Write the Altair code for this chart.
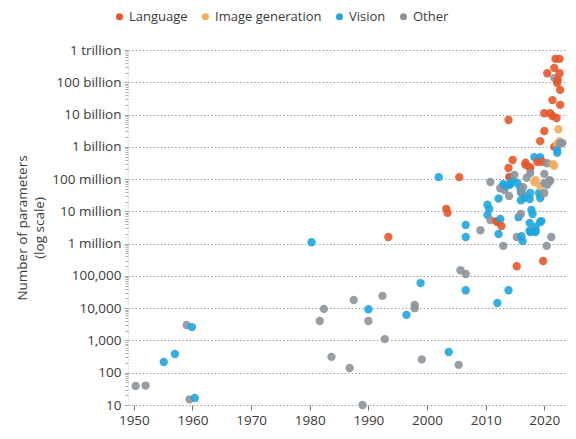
import altair as alt
import pandas as pd

# ---- data (year, number of parameters) ----
language_year = [1993.4, 2003.3, 2003.5, 2005.5, 2011.8, 2012.0, 2012.7, 2013.9, 2013.9, 2014.1,
                 2014.6, 2015.3, 2016.8, 2016.8, 2017.5, 2017.6, 2018.8, 2019.1, 2019.3, 2019.7,
                 2019.8, 2020.0, 2020.0, 2020.5, 2021.0, 2021.4, 2021.4, 2021.7, 2021.7, 2021.9,
                 2022.1, 2022.2, 2022.3, 2022.6, 2022.6, 2022.7, 2022.7]
language_params = [1.6e6, 1.2e7, 9e6, 1.15e8, 5e6, 4.7e6, 3.5e6, 6.8e9, 2.2e8, 1.15e8,
                   3.9e8, 2.0e5, 3.2e8, 2.75e8, 2.35e8, 2.2e8, 3.4e8, 4.0e8, 1.5e9, 3.4e8,
                   2.9e5, 3.1e9, 1.1e10, 1.9e11, 1.1e10, 9e9, 2.8e10, 2.8e11, 1e9, 5.3e11,
                   7.8e9, 9.5e10, 1.2e11, 5.3e11, 1.9e11, 5.8e10, 2.0e10]

imagegen_year = [2018.3, 2018.5, 2019.3, 2021.5, 2021.7, 2022.2, 2022.4, 2022.6]
imagegen_params = [8.1e7, 9.3e7, 6e7, 2.9e8, 2.6e8, 1.2e9, 3.5e9, 1.5e9]

vision_year = [1955.1, 1957.0, 1959.9, 1960.4, 1980.3, 1990.0, 1996.5, 1998.9, 2002.0, 2003.7,
               2006.6, 2006.6, 2006.6, 2010.3, 2010.6, 2010.3, 2012.5, 2012.2, 2012.0, 2013.9,
               2013.4, 2014.2, 2014.0, 2014.1, 2015.4, 2015.6, 2016.1, 2016.3, 2016.1, 2016.6,
               2017.5, 2017.6, 2017.5, 2017.5, 2017.8, 2018.0, 2018.5, 2018.5, 2019.5, 2019.1,
               2019.3, 2018.3, 2019.3, 2022.2, 2022.2, 2016.0, 2017.6, 2018.5, 2019.3, 2015.9,
               2013.0, 2012.2, 2014.7]
vision_params = [215, 380, 2600, 16.5, 1.1e6, 9300, 6200, 6e4, 1.15e8, 440,
                 3.8e6, 1.6e6, 3.6e4, 1.6e7, 1.2e7, 7.8e6, 5.8e6, 2e6, 1.45e4, 3.6e4,
                 6.2e7, 7.1e7, 1.15e8, 6.6e7, 7.6e7, 6.6e6, 1.7e6, 1.2e6, 3.7e7, 2.6e7,
                 2.4e7, 3.7e7, 4.4e6, 2.5e6, 1.1e7, 8.3e6, 3.3e6, 2.5e6, 5e6, 3.7e7,
                 2.6e7, 4.8e8, 4.8e8, 6.5e8, 8e8, 2.2e7, 2.3e6, 2.3e6, 4.7e6, 5.5e7,
                 7e7, 2.5e7, 9e7]

other_year = [1950.3, 1952.0, 1959.0, 1959.5, 1981.7, 1982.4, 1983.7, 1986.8, 1987.5, 1989.0,
              1990.0, 1992.4, 1992.8, 1997.9, 1997.9, 1999.1, 2005.4, 2005.7, 2006.6, 2009.1,
              2010.8, 2010.8, 2013.0, 2015.3, 2021.2, 2020.4, 2016.0, 2016.0, 2016.4, 2014.0,
              2013.2, 2012.5, 2014.9, 2020.0, 2021.0, 2020.0, 2020.0, 2017.6, 2020.5, 2020.9,
              2020.5, 2021.7, 2022.7, 2023.1, 2017.0, 2016.3]
other_params = [39, 40, 3000, 15, 4000, 9500, 310, 140, 1.8e4, 10,
                4000, 2.4e4, 1100, 1.26e4, 1e4, 260, 175, 1.5e5, 1.15e5, 2.6e6,
                8.1e7, 5.4e6, 8.5e5, 1.6e6, 1.6e6, 8.5e5, 8.3e6, 4e7, 5.6e7, 3e7,
                4.6e7, 5.2e7, 1.35e8, 3.7e7, 8.7e7, 7.6e7, 1.45e8, 1.55e8, 3.1e8, 9.3e7,
                6.6e7, 1.35e11, 1.3e9, 1.3e9, 1.1e8, 3.3e7]

categories = ["Language", "Image generation", "Vision", "Other"]
colors = ["#E5582B", "#F2AC5C", "#1FA6DF", "#8D939B"]

y_tick_values = [10, 100, 1e3, 1e4, 1e5, 1e6, 1e7, 1e8, 1e9, 1e10, 1e11, 1e12]
y_tick_labels = ["10", "100", "1,000", "10,000", "100,000", "1 million", "10 million",
                 "100 million", "1 billion", "10 billion", "100 billion", "1 trillion"]
x_tick_values = [1950, 1960, 1970, 1980, 1990, 2000, 2010, 2020]

# ---- build table ----
rows = []
for cat, ys, ps in [("Language", language_year, language_params),
                    ("Image generation", imagegen_year, imagegen_params),
                    ("Vision", vision_year, vision_params),
                    ("Other", other_year, other_params)]:
    for yr, p in zip(ys, ps):
        rows.append({"year": yr, "params": p, "category": cat})
df = pd.DataFrame(rows)

# minor log ticks (axis decoration only)
minor_ticks = [m * v for v in y_tick_values[:-1] for m in range(2, 10)]
all_ticks = sorted(y_tick_values + minor_ticks)

label_expr = ""
for v, lab in zip(reversed(y_tick_values), reversed(y_tick_labels)):
    label_expr += f"abs(datum.value - {v:.0f}) < {v * 0.01:.4f} ? '{lab}' : "
label_expr += "''"

major_test = "abs(log(datum.value)/LN10 - round(log(datum.value)/LN10)) < 0.001"

FONT = "Open Sans"
TXT = "#3a3a3a"

chart = alt.Chart(df).mark_circle(size=70, opacity=0.9).encode(
    x=alt.X("year:Q",
            scale=alt.Scale(domain=[1949, 2023.7], nice=False, zero=False),
            axis=alt.Axis(values=x_tick_values, format="d", title=None, grid=False,
                          domain=False, ticks=True, tickSize=5, tickColor="#777",
                          labelFontSize=13.5, labelColor=TXT, labelFont=FONT,
                          labelPadding=3)),
    y=alt.Y("params:Q",
            scale=alt.Scale(type="log", domain=[10, 1e12], nice=False),
            axis=alt.Axis(values=all_ticks, labelExpr=label_expr, labelOverlap=False,
                          title=["Number of parameters", "(log scale)"],
                          titleFont=FONT, titleFontSize=13.5, titleFontWeight="normal",
                          titleColor=TXT, titlePadding=5, titleLineHeight=17,
                          labelFontSize=13.5, labelColor=TXT, labelFont=FONT,
                          labelPadding=3,
                          grid=True, gridColor="#8a8a8a", gridDash=[1.2, 2.4],
                          gridWidth=1.1,
                          gridOpacity={"condition": {"test": major_test, "value": 1}, "value": 0},
                          domain=True, domainColor="#c8c8c8", domainDash=[1, 2],
                          tickColor="#aaaaaa",
                          tickSize={"condition": {"test": major_test, "value": 4}, "value": 3})),
    color=alt.Color("category:N",
                    scale=alt.Scale(domain=categories, range=colors),
                    legend=alt.Legend(title=None, orient="none", direction="horizontal",
                                      legendX=-15, legendY=-40,
                                      symbolType="circle", symbolSize=50,
                                      symbolOpacity=1, labelFontSize=13,
                                      labelFont=FONT, labelColor=TXT,
                                      columnPadding=11, labelOffset=3)),
    order=alt.Order("year:Q"),
).properties(
    width=438,
    height=355,
    padding={"left": 7, "top": 2, "right": 0, "bottom": 5},
).configure_view(
    stroke=None
)

chart.save("out.html", embed_options={"renderer": "svg", "actions": False})
